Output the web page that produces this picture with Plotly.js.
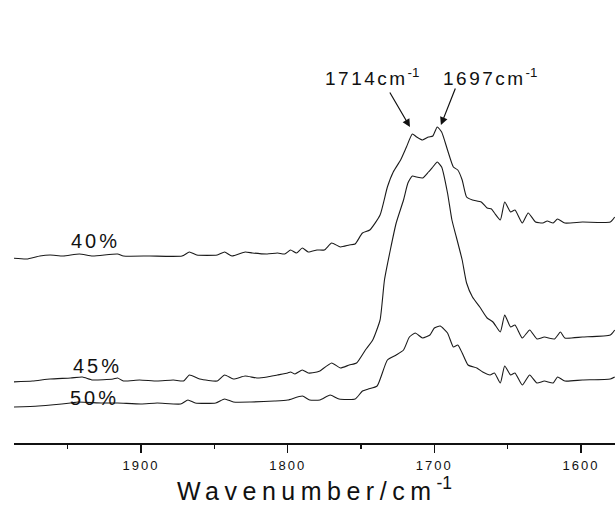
<!DOCTYPE html>
<html>
<head>
<meta charset="utf-8">
<script src="https://cdn.plot.ly/plotly-3.0.1.min.js"></script>
<style>html,body{margin:0;padding:0;background:#fff;}#chart{width:615px;height:510px;}</style>
</head>
<body>
<div id="chart"></div>
<script>
// Wavenumber (cm^-1) and absorbance (arbitrary, offset)
const wn40 = [1988,1978,1969,1962,1953,1942,1933,1916,1912,1894,1872,1867,1862,1848,1843,1838,1829,1824,1814,1807,1802,1798,1794,1790,1786,1780,1775,1770,1764,1758,1754,1749,1744,1737,1732,1728,1723,1719,1715,1712,1708,1704,1701,1698,1695,1691,1687,1684,1681,1678,1674,1668,1664,1661,1659,1655,1652,1648,1645,1640,1636,1631,1626,1623,1619,1616,1611,1599,1580,1577];
const abs40 = [1.85,1.84,1.87,1.88,1.87,1.89,1.87,1.89,1.87,1.87,1.87,1.91,1.88,1.88,1.91,1.87,1.91,1.90,1.89,1.90,1.89,1.93,1.90,1.95,1.91,1.93,1.93,2.00,1.96,1.98,1.99,2.10,2.13,2.28,2.56,2.71,2.83,2.96,3.09,3.06,3.03,3.06,3.07,3.16,3.11,2.93,2.76,2.73,2.63,2.46,2.43,2.41,2.35,2.34,2.30,2.23,2.41,2.31,2.33,2.20,2.30,2.21,2.20,2.22,2.20,2.24,2.20,2.21,2.21,2.26];

const wn45 = [1988,1974,1962,1948,1940,1933,1919,1916,1912,1901,1889,1878,1871,1867,1860,1848,1843,1837,1829,1821,1814,1807,1800,1798,1795,1790,1786,1780,1778,1770,1764,1758,1753,1747,1742,1737,1734,1730,1726,1721,1718,1715,1712,1708,1704,1701,1698,1695,1691,1688,1685,1681,1678,1674,1669,1664,1660,1655,1652,1648,1645,1640,1635,1630,1625,1618,1614,1611,1599,1580,1577];
const abs45 = [0.61,0.62,0.64,0.65,0.66,0.63,0.64,0.65,0.62,0.63,0.62,0.63,0.62,0.68,0.64,0.62,0.68,0.64,0.67,0.65,0.66,0.68,0.70,0.71,0.69,0.73,0.70,0.71,0.72,0.80,0.75,0.78,0.80,0.93,1.03,1.23,1.63,1.93,2.20,2.43,2.60,2.67,2.66,2.65,2.71,2.76,2.81,2.76,2.50,2.23,2.06,1.83,1.60,1.46,1.36,1.25,1.21,1.11,1.28,1.16,1.18,1.05,1.13,1.04,1.06,1.04,1.11,1.05,1.06,1.08,1.13];

const wn50 = [1988,1970,1948,1943,1927,1916,1900,1889,1873,1868,1863,1849,1843,1837,1825,1809,1800,1790,1785,1778,1771,1765,1754,1749,1745,1739,1732,1726,1721,1717,1713,1708,1703,1700,1696,1691,1687,1684,1681,1677,1671,1667,1662,1659,1655,1652,1648,1645,1640,1635,1630,1625,1619,1616,1611,1599,1580,1577];
const abs50 = [0.36,0.37,0.40,0.41,0.40,0.40,0.39,0.40,0.39,0.43,0.40,0.40,0.44,0.41,0.41,0.42,0.43,0.47,0.43,0.43,0.48,0.44,0.44,0.52,0.54,0.57,0.83,0.88,0.93,1.06,1.10,1.05,1.08,1.15,1.17,1.10,0.96,0.98,0.90,0.78,0.75,0.71,0.68,0.70,0.60,0.77,0.68,0.70,0.58,0.68,0.60,0.62,0.60,0.66,0.62,0.63,0.64,0.66];

const sampleLabels = ['40%', '45%', '50%'];
const peakLabels = ['1714', '1697'];
const tickVals = [1900, 1800, 1700, 1600];
const minorVals = [1950, 1850, 1750, 1650];

const lineStyle = {color: '#1a1a1a', width: 1.1, shape: 'spline', smoothing: 0.5};
const traces = [
  {x: wn40, y: abs40, name: sampleLabels[0]},
  {x: wn45, y: abs45, name: sampleLabels[1]},
  {x: wn50, y: abs50, name: sampleLabels[2]}
].map(t => Object.assign(t, {type: 'scatter', mode: 'lines', line: lineStyle, hoverinfo: 'skip'}));

const sp = (s, ls) => '<span style="letter-spacing:' + ls + 'px">' + s + '</span>';
const font = 'Arial, "Liberation Sans", sans-serif';

const annotations = [
  {x: 1930.7, y: 2.02, text: sp(sampleLabels[0], 3)},
  {x: 1930.0, y: 0.77, text: sp(sampleLabels[1], 3)},
  {x: 1931.4, y: 0.45, text: sp(sampleLabels[2], 3)}
].map(a => Object.assign(a, {xref: 'x', yref: 'y', showarrow: false, xanchor: 'center', yanchor: 'middle',
   font: {family: font, size: 20, color: '#111'}}));

annotations.push(
  {x: 1742.5, y: 3.66, xref: 'x', yref: 'y', showarrow: false, xanchor: 'center', yanchor: 'middle',
   text: sp(peakLabels[0] + 'cm', 2.5) + '<sup>-1</sup>', font: {family: font, size: 19, color: '#111'}},
  {x: 1662.1, y: 3.66, xref: 'x', yref: 'y', showarrow: false, xanchor: 'center', yanchor: 'middle',
   text: sp(peakLabels[1] + 'cm', 2.5) + '<sup>-1</sup>', font: {family: font, size: 19, color: '#111'}},
  {x: 1716.6, y: 3.16, xref: 'x', yref: 'y', text: '', showarrow: true, ax: -21, ay: -36,
   arrowhead: 2, arrowsize: 1.3, arrowwidth: 1.2, arrowcolor: '#111', standoff: 0},
  {x: 1695.5, y: 3.18, xref: 'x', yref: 'y', text: '', showarrow: true, ax: 15, ay: -38,
   arrowhead: 2, arrowsize: 1.3, arrowwidth: 1.2, arrowcolor: '#111', standoff: 0}
);

const layout = {
  width: 615, height: 510,
  margin: {l: 14, r: 0, t: 43, b: 67},
  paper_bgcolor: '#fff', plot_bgcolor: '#fff',
  showlegend: false,
  xaxis: {
    range: [1986.6, 1576.8],
    showline: true, linecolor: '#111', linewidth: 1.6,
    showgrid: false, zeroline: false,
    ticks: 'outside', ticklen: 8, tickwidth: 1.2, tickcolor: '#111',
    tickvals: tickVals, ticktext: tickVals.map(v => sp(String(v), 2)),
    tickfont: {family: font, size: 13, color: '#111'},
    ticklabelstandoff: 2,
    minor: {tickvals: minorVals, ticks: 'outside', ticklen: 4, tickwidth: 1.2, tickcolor: '#111', showgrid: false},
    title: {text: sp('Wavenumber/cm', 5.5) + '<sup>-1</sup>', font: {family: font, size: 25, color: '#111'}, standoff: 3},
    fixedrange: true
  },
  yaxis: {
    range: [0, 4], visible: false, fixedrange: true
  },
  annotations: annotations
};

Plotly.newPlot('chart', traces, layout, {displayModeBar: false, staticPlot: true});
</script>
</body>
</html>
